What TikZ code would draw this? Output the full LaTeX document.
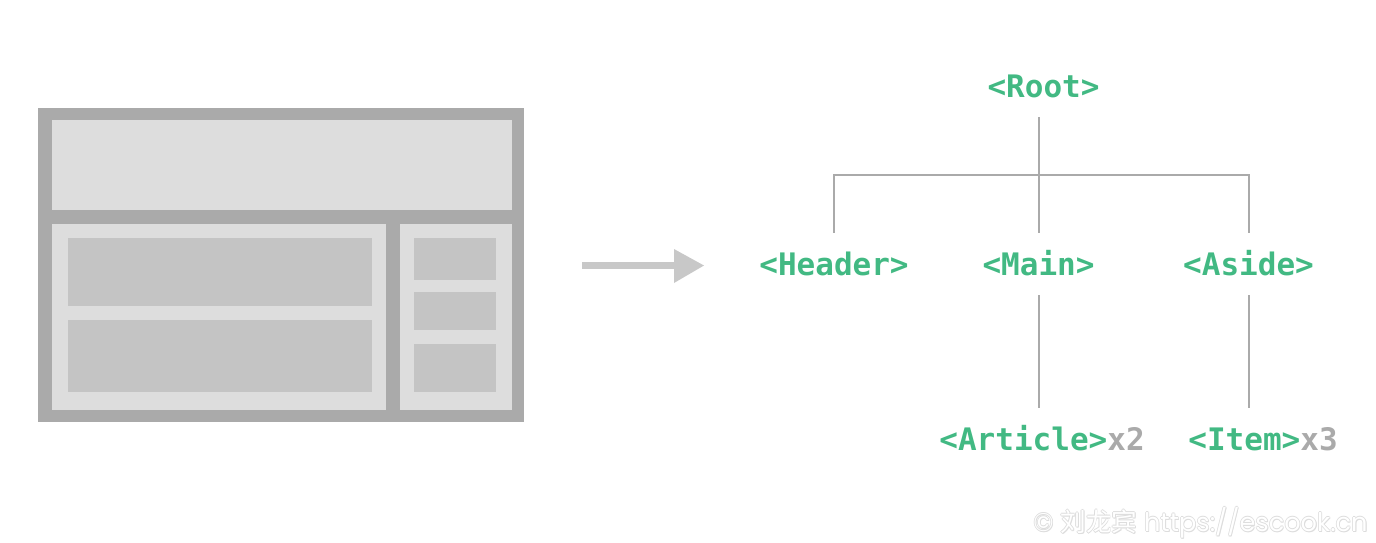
\documentclass[tikz,border=0pt]{standalone}
\usepackage{fontspec}
\newfontfamily\tagfont{DejaVu Sans Mono}
\newfontfamily\cjk{Noto Sans CJK SC}
\newfontfamily\wmfont{Poppins}
\definecolor{vgreen}{HTML}{42B983}
\definecolor{xgray}{HTML}{AAAAAA}
\definecolor{frame}{HTML}{AAAAAA}
\definecolor{pane}{HTML}{DDDDDD}
\definecolor{block}{HTML}{C4C4C4}
\definecolor{arrowgray}{HTML}{C8C8C8}
\definecolor{wmshadow}{HTML}{DDDDDD}
\tikzset{
  tag/.style={font=\tagfont\bfseries\fontsize{15.5pt}{18pt}\selectfont, text=vgreen,
    inner xsep=0pt, inner ysep=0pt, minimum height=31pt, text height=11.3pt, text depth=0pt},
  link/.style={draw=xgray, line width=1pt},
  wm/.style={font=\wmfont\fontsize{12.8pt}{15pt}\selectfont, inner sep=0pt, anchor=east}
}
\begin{document}
\begin{tikzpicture}[x=0.5pt,y=-0.5pt]
\useasboundingbox (0,0) rectangle (1376,542);
% layout sketch
\fill[frame] (38,108) rectangle (524,422);
\fill[pane] (52,120) rectangle (512,210);
\fill[pane] (52,224) rectangle (386,410);
\fill[pane] (400,224) rectangle (512,410);
\fill[block] (68,238) rectangle (372,306);
\fill[block] (68,320) rectangle (372,392);
\fill[block] (414,238) rectangle (496,280);
\fill[block] (414,292) rectangle (496,330);
\fill[block] (414,344) rectangle (496,392);
% arrow
\fill[arrowgray] (582,262) rectangle (676,269);
\fill[arrowgray] (674,249) -- (704,265.5) -- (674,283) -- cycle;
% tree
\node[tag] (root) at (1043.5,86) {<Root>};
\node[tag] (header) at (834,264) {<Header>};
\node[tag] (main) at (1038.5,264) {<Main>};
\node[tag] (aside) at (1248.5,264) {<Aside>};
\node[tag, anchor=west] (article) at (939,439) {<Article>\textcolor{xgray}{x2}};
\node[tag, anchor=west] (item) at (1188,439) {<Item>\textcolor{xgray}{x3}};
\coordinate (bar) at (1039,175);
\draw[link] (root.south -| main.center) -- (main.north);
\draw[link] (header.north) -- (header.north |- bar) -- (aside.north |- bar) -- (aside.north);
\draw[link] (main.south) -- (main.south |- article.north);
\draw[link] (aside.south) -- (aside.south |- item.north);
% watermark
\foreach \dx/\dy in {0.8/0,-0.8/0,0/0.8,0/-0.8,0.8/0.8}
  \node[wm, text=wmshadow] at (1368+\dx,523+\dy) {© {\cjk 刘龙宾} https://escook.cn};
\node[wm, text=white] (wmark) at (1368,523) {© {\cjk 刘龙宾} https://escook.cn};
\end{tikzpicture}
\end{document}
